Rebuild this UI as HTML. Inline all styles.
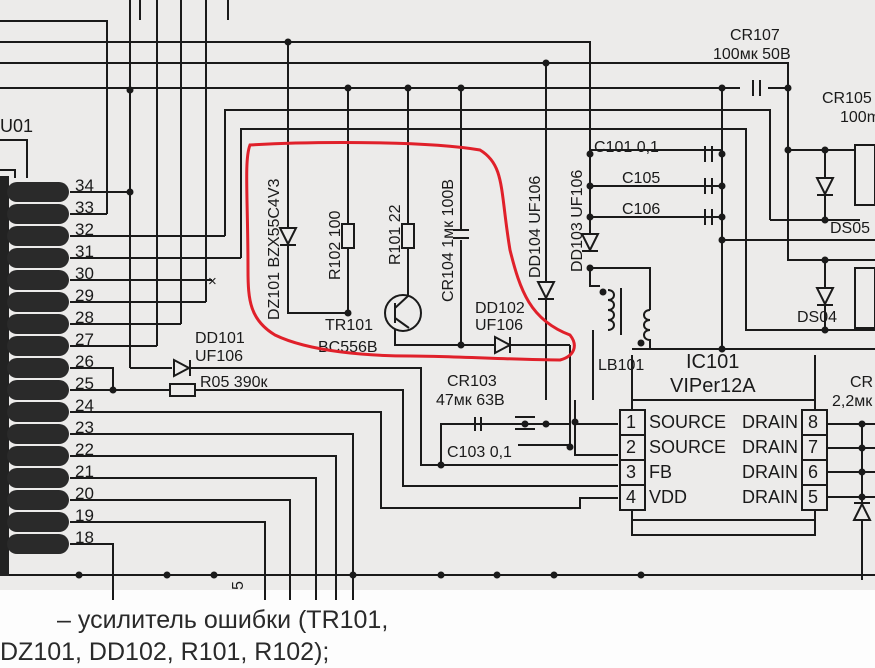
<!DOCTYPE html>
<html><head><meta charset="utf-8"><style>
html,body{margin:0;padding:0;background:#fff}
svg{display:block}
text{font-family:"Liberation Sans",sans-serif;fill:#1a1a1a}
</style></head><body>
<svg width="875" height="668" viewBox="0 0 875 668" xmlns="http://www.w3.org/2000/svg">
<rect width="875" height="590" fill="#ecebea"/>
<rect y="590" width="875" height="78" fill="#fdfdfd"/>
<g stroke="#1a1a1a" stroke-width="2" fill="none">
<path d="M0 21H107V214"/>
<path d="M0 42H590V250"/>
<path d="M0 63H788V150"/>
<path d="M0 88H740M768 88H788"/>
<path d="M225 236V110H770V220"/>
<path d="M241 258V129H746V330H875"/>
<path d="M130 0V368M157 0V346M181 0V324M206 0V302M140 0V20M228 0V20"/>
<path d="M70 192H130M70 214H107M70 236H225M70 258H241M70 280H212M70 302H206M70 324H181M70 346H157"/>
<path d="M70 368H113V390"/>
<path d="M130 368H172M190 368H421V465H618"/>
<path d="M70 390H170M195 390H403V486H618"/>
<path d="M70 412H381V508H580V498H618"/>
<path d="M70 434H353V600"/>
<path d="M70 456H336V600"/>
<path d="M70 478H316V600"/>
<path d="M70 500H290V600"/>
<path d="M70 522H265V600"/>
<path d="M70 544H113V600"/>
<path d="M0 575H875"/>
<path d="M288 42V313H348M348 88V313M408 88V296"/>
<path d="M461 88V230M461 240V345H395V325"/>
<path d="M461 345H495M510 345H570"/>
<path d="M546 63V400"/>
<path d="M570 345V424H441V465"/>
<path d="M441 424H518M530 424H546"/>
<path d="M518 445H570V424"/>
<path d="M590 150H722M590 186H722M590 217H722"/>
<path d="M722 88V349"/>
<path d="M722 240H875"/>
<path d="M788 150H860M788 150V260H875"/>
<path d="M770 220H860M825 150V220M825 260V330"/>
<path d="M590 268H650V310"/>
<path d="M590 268V286H600"/>
<path d="M632 349H875"/>
<path d="M593 330V400"/>
<path d="M575 400V455H618M575 424H618"/>
<path d="M632 355V400M632 520V535H815V520M815 400V355"/>
<path d="M827 424H875M827 448H875M827 472H875M827 497H875M862 424V580"/>
</g>
<rect x="0" y="176" width="9" height="400" fill="#222"/>
<path d="M0 140H27V178M0 170H15V178" stroke="#1a1a1a" stroke-width="2" fill="none"/>
<g fill="#2a2a2a">
<rect x="7" y="182" width="62" height="20" rx="10"/><rect x="7" y="204" width="62" height="20" rx="10"/>
<rect x="7" y="226" width="62" height="20" rx="10"/><rect x="7" y="248" width="62" height="20" rx="10"/>
<rect x="7" y="270" width="62" height="20" rx="10"/><rect x="7" y="292" width="62" height="20" rx="10"/>
<rect x="7" y="314" width="62" height="20" rx="10"/><rect x="7" y="336" width="62" height="20" rx="10"/>
<rect x="7" y="358" width="62" height="20" rx="10"/><rect x="7" y="380" width="62" height="20" rx="10"/>
<rect x="7" y="402" width="62" height="20" rx="10"/><rect x="7" y="424" width="62" height="20" rx="10"/>
<rect x="7" y="446" width="62" height="20" rx="10"/><rect x="7" y="468" width="62" height="20" rx="10"/>
<rect x="7" y="490" width="62" height="20" rx="10"/><rect x="7" y="512" width="62" height="20" rx="10"/>
<rect x="7" y="534" width="62" height="20" rx="10"/>
</g>
<g font-size="17">
<text x="75" y="191">34</text><text x="75" y="213">33</text><text x="75" y="235">32</text><text x="75" y="257">31</text>
<text x="75" y="279">30</text><text x="75" y="301">29</text><text x="75" y="323">28</text><text x="75" y="345">27</text>
<text x="75" y="367">26</text><text x="75" y="389">25</text><text x="75" y="411">24</text><text x="75" y="433">23</text>
<text x="75" y="455">22</text><text x="75" y="477">21</text><text x="75" y="499">20</text><text x="75" y="521">19</text>
<text x="75" y="543">18</text>
<text x="0" y="132" font-size="18">U01</text>
</g>
<text x="208" y="286" font-size="15">×</text>
<g fill="#1a1a1a">
<circle cx="130" cy="192" r="3.5"/><circle cx="130" cy="90" r="3.5"/><circle cx="288" cy="42" r="3.5"/>
<circle cx="348" cy="88" r="3.5"/><circle cx="408" cy="88" r="3.5"/><circle cx="461" cy="88" r="3.5"/>
<circle cx="546" cy="63" r="3.5"/><circle cx="722" cy="88" r="3.5"/><circle cx="788" cy="88" r="3.5"/>
<circle cx="348" cy="313" r="3.5"/><circle cx="461" cy="345" r="3.5"/><circle cx="113" cy="390" r="3.5"/>
<circle cx="590" cy="154" r="3.5"/><circle cx="590" cy="186" r="3.5"/><circle cx="590" cy="217" r="3.5"/><circle cx="590" cy="268" r="3.5"/>
<circle cx="722" cy="154" r="3.5"/><circle cx="722" cy="186" r="3.5"/><circle cx="722" cy="217" r="3.5"/><circle cx="722" cy="240" r="3.5"/><circle cx="722" cy="349" r="3.5"/>
<circle cx="788" cy="150" r="3.5"/><circle cx="825" cy="150" r="3.5"/><circle cx="825" cy="220" r="3.5"/><circle cx="825" cy="260" r="3.5"/><circle cx="825" cy="330" r="3.5"/>
<circle cx="546" cy="424" r="3.5"/><circle cx="525" cy="424" r="3.5"/><circle cx="570" cy="447" r="3.5"/><circle cx="575" cy="422" r="3.5"/><circle cx="441" cy="465" r="3.5"/>
<circle cx="862" cy="424" r="3.5"/><circle cx="862" cy="448" r="3.5"/><circle cx="862" cy="472" r="3.5"/><circle cx="862" cy="497" r="3.5"/>
<circle cx="603" cy="292" r="3.5"/><circle cx="641" cy="343" r="3.5"/>
<circle cx="79" cy="575" r="3.5"/><circle cx="167" cy="575" r="3.5"/><circle cx="214" cy="575" r="3.5"/><circle cx="353" cy="575" r="3.5"/><circle cx="441" cy="575" r="3.5"/><circle cx="497" cy="575" r="3.5"/><circle cx="554" cy="575" r="3.5"/><circle cx="641" cy="575" r="3.5"/>
</g>
<g stroke="#1a1a1a" stroke-width="2" fill="#ecebea">
<path d="M280 228H296L288 244Z"/><path d="M280 245H296"/>
<rect x="342" y="224" width="12" height="24"/><rect x="402" y="224" width="12" height="24"/>
<path d="M453 230H469M453 238H469" />
<path d="M538 282H554L546 298Z M538 299H554"/>
<path d="M582 234H598L590 250Z M582 251H598"/>
<path d="M817 178H833L825 194Z M817 195H833"/>
<path d="M817 288H833L825 304Z M817 305H833"/>
<path d="M174 360V376L189 368Z M190 360V376"/>
<rect x="170" y="384" width="25" height="12"/>
<path d="M495 337V353L510 345Z M510 337V353"/>
<circle cx="403" cy="313" r="18"/>
<path d="M395 303V323M395 308L408 296M395 318L409 328"/>
<path d="M705 146V162M712 146V162M705 178V194M712 178V194M705 209V225M712 209V225"/>
<path d="M753 80V96M760 80V96"/>
<path d="M515 417H535M515 429H535"/>
<path d="M475 417V431M481 417V431"/>
<rect x="632" y="400" width="183" height="120"/>
<rect x="620" y="410" width="25" height="100"/><rect x="802" y="410" width="25" height="100"/>
<path d="M620 435H645M620 460H645M620 485H645M802 435H827M802 460H827M802 485H827"/>
<path d="M608 290c8 0 8 10 0 10c8 0 8 10 0 10c8 0 8 10 0 10c8 0 8 10 0 10" fill="none"/>
<path d="M621 288V335" />
<path d="M650 310c-8 0 -8 10 0 10c-8 0 -8 10 0 10c-8 0 -8 10 0 10V349" fill="none"/>
<path d="M854 520H870L862 504Z M854 503H870"/>
<rect x="855" y="145" width="20" height="60"/><rect x="855" y="268" width="20" height="60"/>
</g>
<g font-size="16">
<text transform="translate(279,320) rotate(-90)">DZ101 BZX55C4V3</text>
<text transform="translate(340,280) rotate(-90)">R102 100</text>
<text transform="translate(400,265) rotate(-90)">R101 22</text>
<text transform="translate(453,302) rotate(-90)">CR104 1мк 100В</text>
<text transform="translate(540,278) rotate(-90)">DD104 UF106</text>
<text transform="translate(582,272) rotate(-90)">DD103 UF106</text>
<text x="325" y="330">TR101</text><text x="318" y="352">BC556B</text>
<text x="475" y="313">DD102</text><text x="475" y="330">UF106</text>
<text x="195" y="343">DD101</text><text x="195" y="361">UF106</text>
<text x="200" y="387">R05 390к</text>
<text x="594" y="152">C101 0,1</text><text x="622" y="183">C105</text><text x="622" y="214">C106</text>
<text x="730" y="40">CR107</text><text x="713" y="59">100мк 50В</text>
<text x="822" y="103">CR105</text><text x="840" y="122">100m</text>
<text x="830" y="233">DS05</text><text x="797" y="322">DS04</text>
<text x="598" y="370">LB101</text>
<text x="447" y="386">CR103</text><text x="436" y="405">47мк 63В</text>
<text x="447" y="457">C103 0,1</text>
<text x="850" y="387">CR</text><text x="832" y="406">2,2мк</text>
<text transform="translate(243,590) rotate(-90)">5</text>
</g>
<g font-size="18">
<text x="686" y="368" font-size="20">IC101</text><text x="670" y="392" font-size="20">VIPer12A</text>
<text x="626" y="428">1</text><text x="626" y="453">2</text><text x="626" y="478">3</text><text x="626" y="503">4</text>
<text x="808" y="428">8</text><text x="808" y="453">7</text><text x="808" y="478">6</text><text x="808" y="503">5</text>
<text x="649" y="428">SOURCE</text><text x="649" y="453">SOURCE</text><text x="649" y="478">FB</text><text x="649" y="503">VDD</text>
<text x="742" y="428">DRAIN</text><text x="742" y="453">DRAIN</text><text x="742" y="478">DRAIN</text><text x="742" y="503">DRAIN</text>
</g>
<path d="M250 145C300 142 420 140 480 150C505 165 500 190 510 250C520 290 530 320 570 335C578 345 575 356 560 360C520 360 450 356 410 356C370 356 310 352 275 335C250 320 248 300 248 270C248 200 244 160 250 145Z" fill="none" stroke="#e0202a" stroke-width="3"/>
<text x="57" y="628" font-size="25" style="fill:#2a2a2a">– усилитель ошибки (TR101,</text>
<text x="0" y="660" font-size="25" style="fill:#2a2a2a">DZ101, DD102, R101, R102);</text>
</svg>
</body></html>
